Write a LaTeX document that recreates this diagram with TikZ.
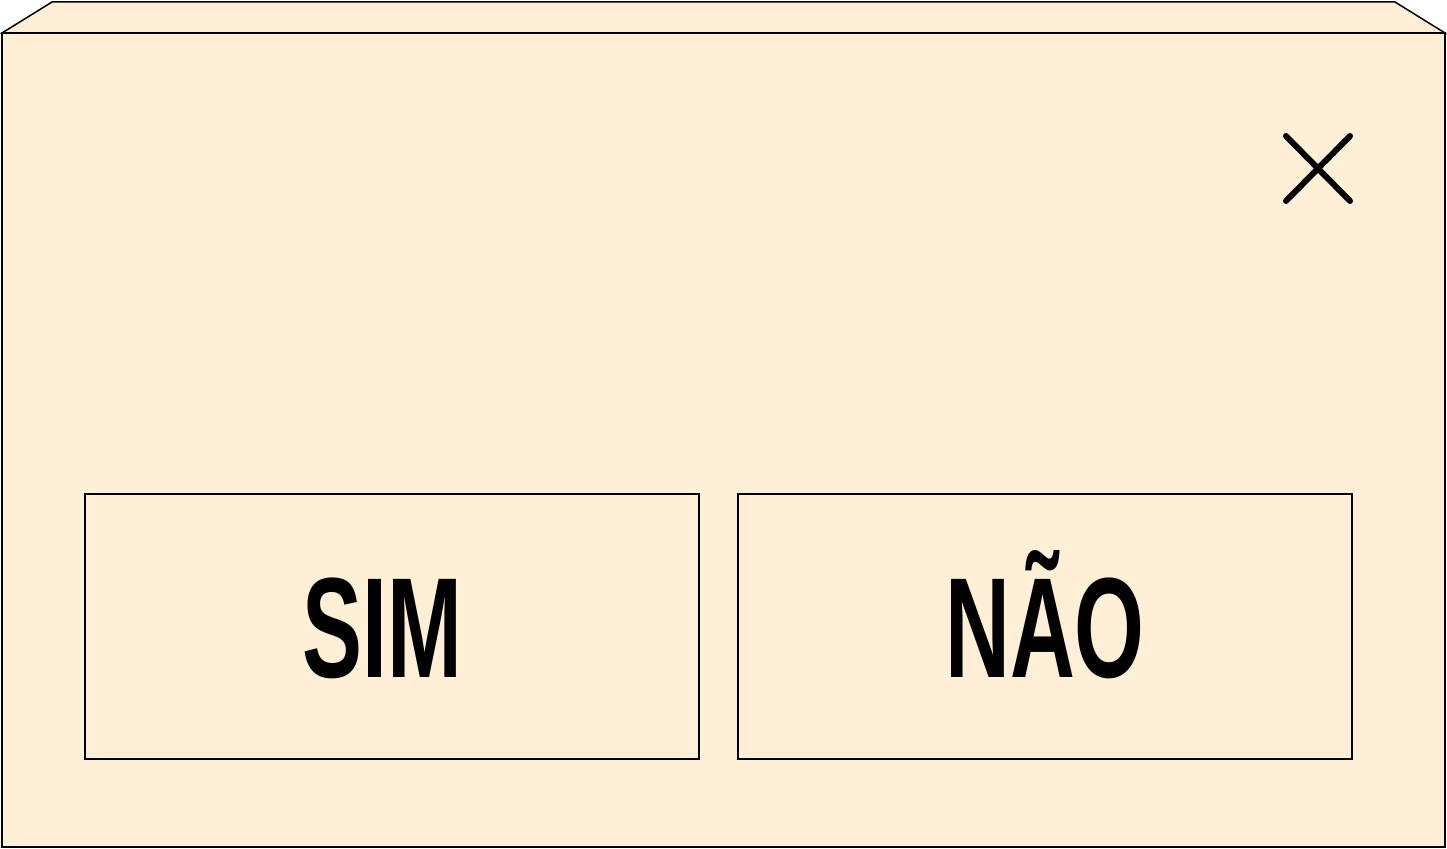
\documentclass[tikz,border=0pt]{standalone}
\usepackage{fontspec}
\newfontfamily\btnfont[FakeStretch=0.63]{Liberation Sans Bold}
\definecolor{dlgfill}{RGB}{255,239,214}
\tikzset{
  dlgline/.style={draw=black,line width=1.5pt*0.75},
  dlgbutton/.style={dlgline,fill=dlgfill,inner sep=0pt,minimum width=460.5pt,minimum height=198.75pt,
    font=\btnfont\fontsize{107}{107}\selectfont,text height=76.5pt,text depth=0pt},
  closemark/.style={line width=4.5pt,line cap=round}
}
\begin{document}
\begin{tikzpicture}[x=0.75pt,y=0.75pt,yscale=-1,xscale=1]
\useasboundingbox (0,0) rectangle (1447,849);
%Top strip
\draw [dlgline,fill=dlgfill] (2,33) -- (52,2) -- (1395,2) -- (1445,33) -- cycle ;
%Window body
\draw [dlgline,fill=dlgfill] (2,33) rectangle (1445,847) ;
%Close mark
\coordinate (xa) at (1286,136) ;
\coordinate (xb) at (1350,201) ;
\coordinate (xc) at (1350,136) ;
\coordinate (xd) at (1286,201) ;
\draw [closemark] (xa) -- (xb) (xc) -- (xd) ;
%Buttons
\node [dlgbutton] (sim) at (392,626.5) {SIM\kern 14pt};
\node [dlgbutton] (nao) at (1045,626.5) {NÃO};
\end{tikzpicture}
\end{document}
